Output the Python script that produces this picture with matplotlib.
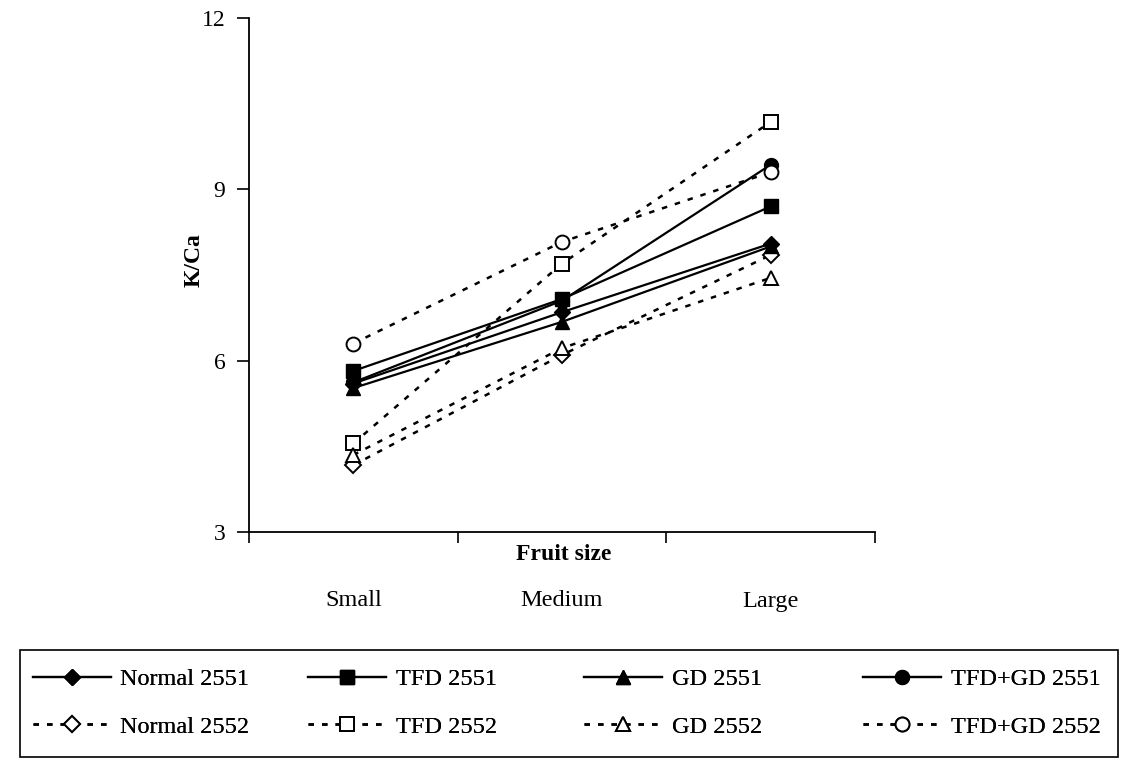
import matplotlib
matplotlib.use("Agg")
import matplotlib.pyplot as plt
from matplotlib.patches import Rectangle
from matplotlib.transforms import blended_transform_factory

plt.rcParams['font.family'] = ['Liberation Serif', 'DejaVu Serif']

sizes = ["Small", "Medium", "Large"]

normal_2551 = [5.60, 6.85, 8.05]
tfd_2551 = [5.82, 7.08, 8.70]
gd_2551 = [5.52, 6.68, 8.00]
tfdgd_2551 = [5.62, 7.05, 9.43]

normal_2552 = [4.17, 6.10, 7.85]
tfd_2552 = [4.55, 7.70, 10.18]
gd_2552 = [4.35, 6.22, 7.45]
tfdgd_2552 = [6.30, 8.08, 9.30]

y_ticks = [3, 6, 9, 12]

W, H = 1124, 767
fig = plt.figure(figsize=(W / 100, H / 100), dpi=100)
ax = fig.add_axes([249 / W, 1 - 532 / H, 626 / W, 514 / H])

x = list(range(len(sizes)))
dots = (0, (2.2, 3.2))
solid_kw = dict(color="black", lw=1.6, markerfacecolor="black",
                markeredgecolor="black", linestyle="-")
open_kw = dict(color="black", lw=1.8, markerfacecolor="white",
               markeredgecolor="black", markeredgewidth=1.4, linestyle=dots)

series = [
    (normal_2551, "D", "Normal 2551", solid_kw, 8.5),
    (normal_2552, "D", "Normal 2552", open_kw, 8.5),
    (tfd_2551, "s", "TFD 2551", solid_kw, 10),
    (tfd_2552, "s", "TFD 2552", open_kw, 10),
    (gd_2551, "^", "GD 2551", solid_kw, 10),
    (gd_2552, "^", "GD 2552", open_kw, 10),
    (tfdgd_2551, "o", "TFD+GD 2551", solid_kw, 10),
    (tfdgd_2552, "o", "TFD+GD 2552", open_kw, 10),
]

handles = []
for vals, mk, label, kw, ms in series:
    h, = ax.plot(x, vals, marker=mk, markersize=ms, label=label, zorder=3,
                 clip_on=False, **kw)
    handles.append(h)

ax.set_xlim(-0.5, 2.5)
ax.set_ylim(3, 12)
ax.set_yticks(y_ticks)
ax.set_yticklabels([str(v) for v in y_ticks])
ax.set_xticks([-0.5, 0.5, 1.5, 2.5])
ax.set_xticklabels([])
ax.tick_params(axis="y", direction="out", length=9, width=1.2, labelsize=17, pad=8)
ax.tick_params(axis="x", direction="out", length=8, width=1.2)
for side in ("top", "right"):
    ax.spines[side].set_visible(False)
for side in ("left", "bottom"):
    ax.spines[side].set_linewidth(1.3)

fig.text(194 / W, 1 - 260 / H, "K/Ca", rotation=90, ha="center", va="center",
         fontsize=17, fontweight="bold")

fig.text(564 / W, 1 - 555 / H, "Fruit size", ha="center", va="center",
         fontsize=17, fontweight="bold")

trans = blended_transform_factory(ax.transData, fig.transFigure)
for xi, name in zip(x, sizes):
    ax.text(xi, 1 - 601 / H, name, transform=trans, ha="center", va="center",
            fontsize=17.5)

# legend: four columns, 2551 on the top row and 2552 below
fig.patches.append(Rectangle((20 / W, 1 - 757 / H), 1098 / W, 107 / H,
                             transform=fig.transFigure, fill=False,
                             edgecolor="black", linewidth=1.2))
col_x = [33, 308, 584, 863]
for i, cx in enumerate(col_x):
    leg = fig.legend(handles=handles[2 * i:2 * i + 2], loc="upper left",
                     bbox_to_anchor=(cx / W, 1 - 668 / H), frameon=False,
                     fontsize=17.5, handlelength=3.2, handletextpad=0.4,
                     labelspacing=1.05, borderpad=0, borderaxespad=0)
    fig.add_artist(leg)

fig.savefig("out.png", dpi=100, facecolor="white")
